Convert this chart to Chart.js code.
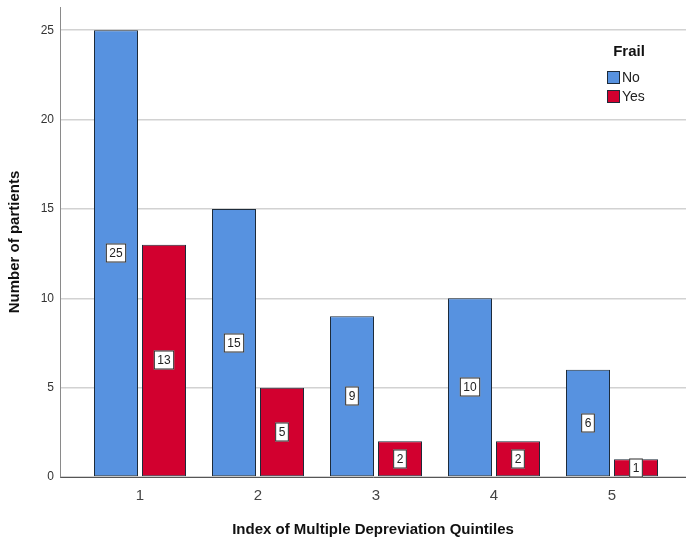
<!DOCTYPE html>
<html>
<head>
<meta charset="utf-8">
<script src="https://cdn.jsdelivr.net/npm/chart.js@4.4.1/dist/chart.umd.min.js"></script>
<style>
  html, body { margin: 0; padding: 0; background: #fff; }
  #wrap { width: 686px; height: 544px; }
</style>
</head>
<body>
<div id="wrap"><canvas id="grafico" width="686" height="544"></canvas></div>
<script>
const quintiles = [1, 2, 3, 4, 5];
const valoresNo = [25, 15, 9, 10, 6];
const valoresYes = [13, 5, 2, 2, 1];
const yTicks = [0, 5, 10, 15, 20, 25];
const leyendaTitulo = "Frail";

const FONT = "'Liberation Sans', Arial, sans-serif";

// etiquetas blancas en el centro de cada barra
const etiquetasPlugin = {
  id: "etiquetas",
  afterDatasetsDraw(chart) {
    const ctx = chart.ctx;
    ctx.save();
    ctx.font = "12px " + FONT;
    ctx.textAlign = "center";
    ctx.textBaseline = "middle";
    chart.data.datasets.forEach((ds, i) => {
      chart.getDatasetMeta(i).data.forEach((bar, j) => {
        const txt = String(ds.data[j].y);
        const w = ctx.measureText(txt).width + 7;
        const h = 19;
        const cx = Math.round(bar.x);
        const cy = Math.round((bar.y + bar.base) / 2);
        ctx.fillStyle = "#fff";
        ctx.fillRect(cx - w / 2, cy - h / 2, w, h);
        ctx.strokeStyle = "#2b2b2b";
        ctx.lineWidth = 1;
        ctx.strokeRect(cx - w / 2 + 0.5, cy - h / 2 + 0.5, w - 1, h - 1);
        ctx.fillStyle = "#222";
        ctx.fillText(txt, cx, cy + 1);
      });
    });
    ctx.restore();
  }
};

// leyenda dentro del area, arriba a la derecha
const leyendaPlugin = {
  id: "leyenda",
  afterDraw(chart) {
    const ctx = chart.ctx;
    ctx.save();
    ctx.fillStyle = "#111";
    ctx.font = "bold 15px " + FONT;
    ctx.textAlign = "center";
    ctx.textBaseline = "middle";
    ctx.fillText(leyendaTitulo, 629, 52);
    ctx.font = "14px " + FONT;
    ctx.textAlign = "left";
    chart.data.datasets.forEach((ds, i) => {
      const y = 71 + i * 19;
      ctx.fillStyle = ds.backgroundColor;
      ctx.fillRect(607, y, 13, 13);
      ctx.strokeStyle = "#1d2b3a";
      ctx.lineWidth = 1;
      ctx.strokeRect(607.5, y + 0.5, 12, 12);
      ctx.fillStyle = "#222";
      ctx.fillText(ds.label, 622, y + 7);
    });
    ctx.restore();
  }
};

new Chart(document.getElementById("grafico"), {
  type: "bar",
  data: {
    datasets: [
      {
        label: "No",
        data: quintiles.map((q, i) => ({ x: q, y: valoresNo[i] })),
        backgroundColor: "#5792E0",
        borderColor: "#1d2b3a",
        borderWidth: 1,
        borderSkipped: false,
        categoryPercentage: 0.8136,
        barPercentage: 0.9167
      },
      {
        label: "Yes",
        data: quintiles.map((q, i) => ({ x: q, y: valoresYes[i] })),
        backgroundColor: "#D2002F",
        borderColor: "#1d2b3a",
        borderWidth: 1,
        borderSkipped: false,
        categoryPercentage: 0.8136,
        barPercentage: 0.9167
      }
    ]
  },
  options: {
    responsive: false,
    animation: false,
    layout: { padding: { top: 7, right: 0, left: 0, bottom: 0 } },
    plugins: {
      legend: { display: false },
      tooltip: { enabled: false }
    },
    scales: {
      x: {
        type: "linear",
        offset: false,
        min: 0.322,
        max: 5.627,
        afterFit(scale) {
          scale.height = 67;
          scale.paddingLeft = 0;
          scale.paddingRight = 0;
        },
        afterBuildTicks(scale) { scale.ticks = quintiles.map(v => ({ value: v })); },
        grid: { display: false, drawTicks: false },
        border: { display: true, color: "#555", width: 1 },
        ticks: {
          padding: 10,
          color: "#444",
          font: { family: FONT, size: 15 },
          callback: v => String(v)
        },
        title: {
          display: true,
          text: "Index of Multiple Depreviation Quintiles",
          color: "#111",
          font: { family: FONT, size: 15, weight: "bold" },
          padding: { top: 4, bottom: 5 }
        }
      },
      y: {
        min: 0,
        max: 26.3,
        afterFit(scale) {
          scale.width = 60;
          scale.paddingTop = 0;
          scale.paddingBottom = 0;
        },
        afterBuildTicks(scale) { scale.ticks = yTicks.map(v => ({ value: v })); },
        grid: { color: "#d2d2d2", lineWidth: 1.5, drawTicks: false },
        border: { display: true, color: "#8a8a8a", width: 1 },
        ticks: {
          padding: 6,
          color: "#333",
          font: { family: FONT, size: 12 }
        },
        title: {
          display: true,
          text: "Number of partients",
          color: "#111",
          font: { family: FONT, size: 15, weight: "bold" },
          padding: { top: 6, bottom: 4 }
        }
      }
    }
  },
  plugins: [etiquetasPlugin, leyendaPlugin]
});
</script>
</body>
</html>
